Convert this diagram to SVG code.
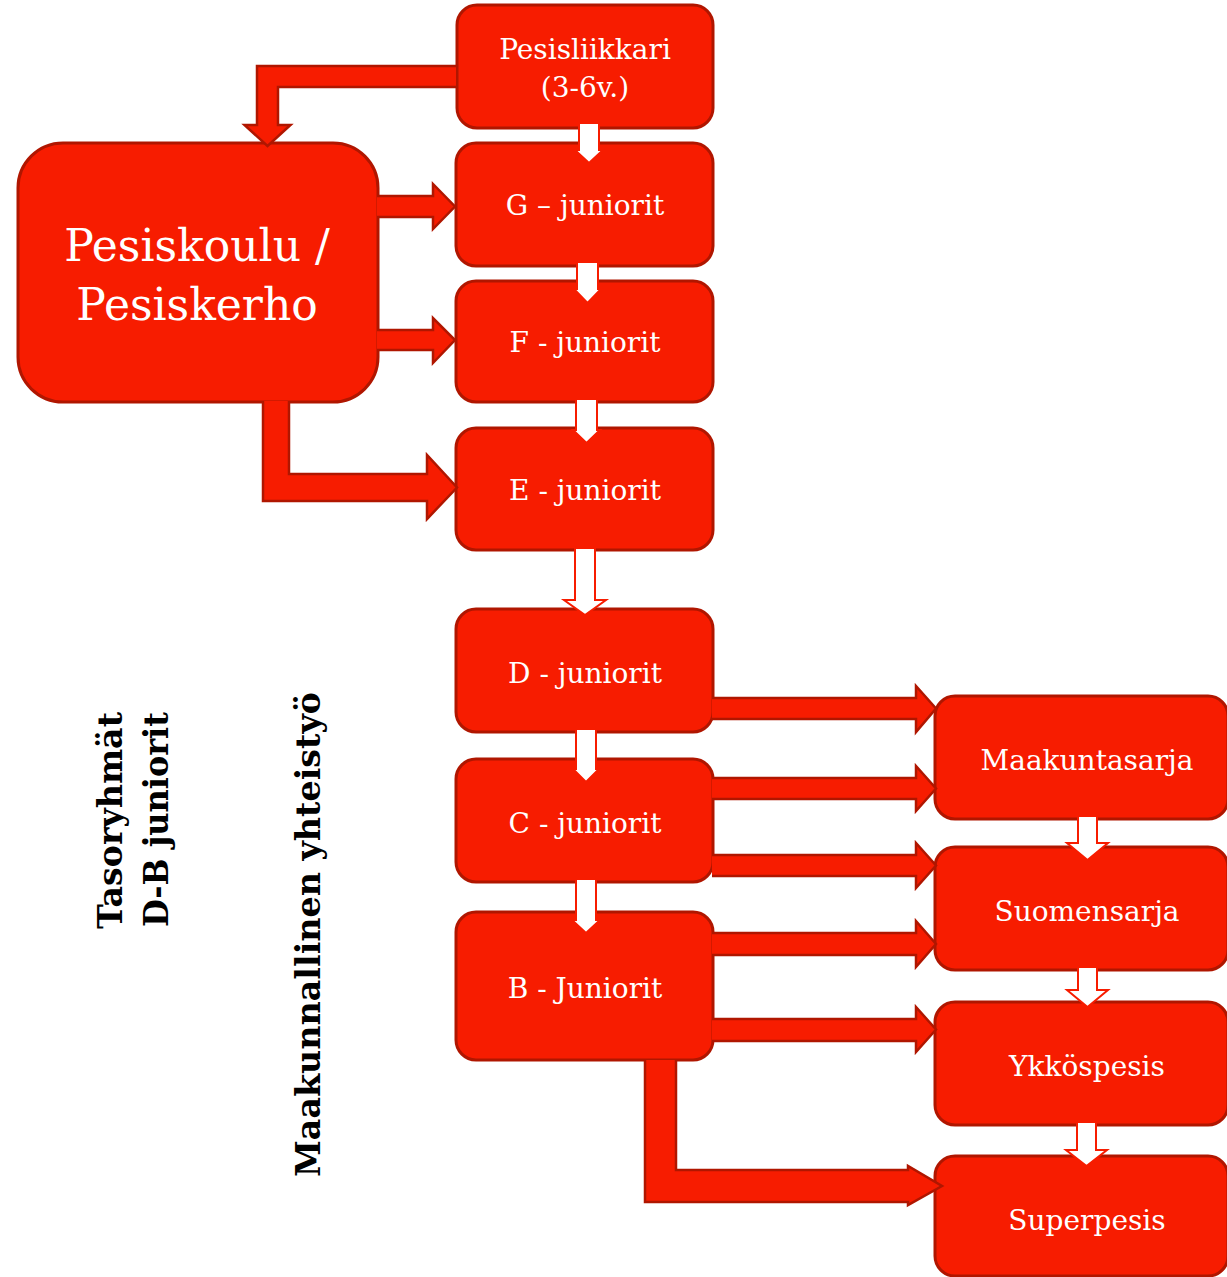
<svg xmlns="http://www.w3.org/2000/svg" width="1227" height="1277" viewBox="0 0 1227 1277">
<style>
.box{fill:#f71c00;stroke:#b01600;stroke-width:3}
.lbl{fill:#ffffff;font-family:"DejaVu Serif","Liberation Serif",serif;font-size:28px;text-anchor:middle}
.big{font-size:44px}
.ra{fill:#f71c00;stroke:#b01600;stroke-width:2.5;stroke-linejoin:miter}
.wa{fill:#ffffff;stroke:#f71c00;stroke-width:2;stroke-linejoin:miter}
.vt{fill:#000000;font-family:"DejaVu Serif","Liberation Serif",serif;font-weight:bold;font-size:33px}
</style>
<rect width="1227" height="1277" fill="#ffffff"/>
<g id="node-pesisliikkari"><rect class="box" x="457" y="5" width="256" height="123" rx="20"/><text class="lbl" x="585" y="59">Pesisliikkari</text><text class="lbl" x="585" y="97">(3-6v.)</text></g>
<g id="node-pesiskoulu"><rect class="box" x="18" y="143" width="360" height="259" rx="45"/><text class="lbl big" x="197" y="261">Pesiskoulu /</text><text class="lbl big" x="197" y="320">Pesiskerho</text></g>
<g id="node-g"><rect class="box" x="456" y="143" width="257" height="123" rx="20"/><text class="lbl" x="585" y="215">G – juniorit</text></g>
<g id="node-f"><rect class="box" x="456" y="281" width="257" height="121" rx="20"/><text class="lbl" x="585" y="352">F - juniorit</text></g>
<g id="node-e"><rect class="box" x="456" y="428" width="257" height="122" rx="20"/><text class="lbl" x="585" y="500">E - juniorit</text></g>
<g id="node-d"><rect class="box" x="456" y="609" width="257" height="123" rx="20"/><text class="lbl" x="585" y="683">D - juniorit</text></g>
<g id="node-c"><rect class="box" x="456" y="759" width="257" height="123" rx="20"/><text class="lbl" x="585" y="833">C - juniorit</text></g>
<g id="node-b"><rect class="box" x="456" y="912" width="257" height="148" rx="20"/><text class="lbl" x="585" y="998">B - Juniorit</text></g>
<g id="node-maakuntasarja"><rect class="box" x="935" y="696" width="293" height="123" rx="20"/><text class="lbl" x="1087" y="770">Maakuntasarja</text></g>
<g id="node-suomensarja"><rect class="box" x="935" y="847" width="293" height="123" rx="20"/><text class="lbl" x="1087" y="921">Suomensarja</text></g>
<g id="node-ykkospesis"><rect class="box" x="935" y="1002" width="293" height="123" rx="20"/><text class="lbl" x="1087" y="1076">Ykköspesis</text></g>
<g id="node-superpesis"><rect class="box" x="935" y="1156" width="293" height="120" rx="20"/><text class="lbl" x="1087" y="1230">Superpesis</text></g>
<g id="labels">
<text class="vt" transform="translate(122,929) rotate(-90)" textLength="217" lengthAdjust="spacingAndGlyphs">Tasoryhmät</text>
<text class="vt" transform="translate(168,927) rotate(-90)" textLength="215" lengthAdjust="spacingAndGlyphs">D-B juniorit</text>
<text class="vt" transform="translate(320,1177) rotate(-90)" textLength="485" lengthAdjust="spacingAndGlyphs">Maakunnallinen yhteistyö</text>
</g>
<g id="connectors">
<path class="ra" d="M456,87 L278,87 L278,125 L290.5,125 L267.5,146 L244.5,125 L257,125 L257,66 L456,66"/>
<path class="ra" d="M377,217 L433,217 L433,229 L455,206.5 L433,184 L433,196 L377,196"/>
<path class="ra" d="M377,350 L433,350 L433,363 L455,340 L433,318 L433,330 L377,330"/>
<path class="ra" d="M263,401 L263,501 L427,501 L427,519 L457,487.5 L427,455 L427,474 L289,474 L289,401"/>
<path class="ra" d="M712,719 L916,719 L916,732 L936,708.5 L916,686 L916,698 L712,698"/>
<path class="ra" d="M712,799 L916,799 L916,811 L936,788.5 L916,766 L916,778 L712,778"/>
<path class="ra" d="M712,876 L916,876 L916,888 L936,865.5 L916,843 L916,855 L712,855"/>
<path class="ra" d="M712,955 L916,955 L916,967 L936,944 L916,921 L916,933 L712,933"/>
<path class="ra" d="M712,1041 L916,1041 L916,1052 L936,1029.5 L916,1007 L916,1019 L712,1019"/>
<path class="ra" d="M645,1060 L645,1202 L908,1202 L908,1205 L942,1186 L908,1166 L908,1170 L676,1170 L676,1060"/>
<path class="wa" d="M579,123 L599,123 L599,150 L603,150 L589,163 L575,150 L579,150 Z"/>
<path class="wa" d="M577,262 L598,262 L598,289 L601,289 L587.5,303 L574,289 L577,289 Z"/>
<path class="wa" d="M576,399 L597,399 L597,430 L600,430 L586.5,443 L573,430 L576,430 Z"/>
<path class="wa" d="M575,548 L595,548 L595,600 L606,600 L585,615 L564,600 L575,600 Z"/>
<path class="wa" d="M576,729 L596,729 L596,769 L599,769 L586,782 L573,769 L576,769 Z"/>
<path class="wa" d="M576,879 L596,879 L596,920 L600,920 L586,933 L572,920 L576,920 Z"/>
<path class="wa" d="M1078,816 L1097,816 L1097,843 L1108,843 L1087.5,860 L1067,843 L1078,843 Z"/>
<path class="wa" d="M1078,967 L1097,967 L1097,990 L1108,990 L1087.5,1007 L1067,990 L1078,990 Z"/>
<path class="wa" d="M1077,1122 L1096,1122 L1096,1150 L1107,1150 L1086.5,1166 L1066,1150 L1077,1150 Z"/>
</g>
</svg>
